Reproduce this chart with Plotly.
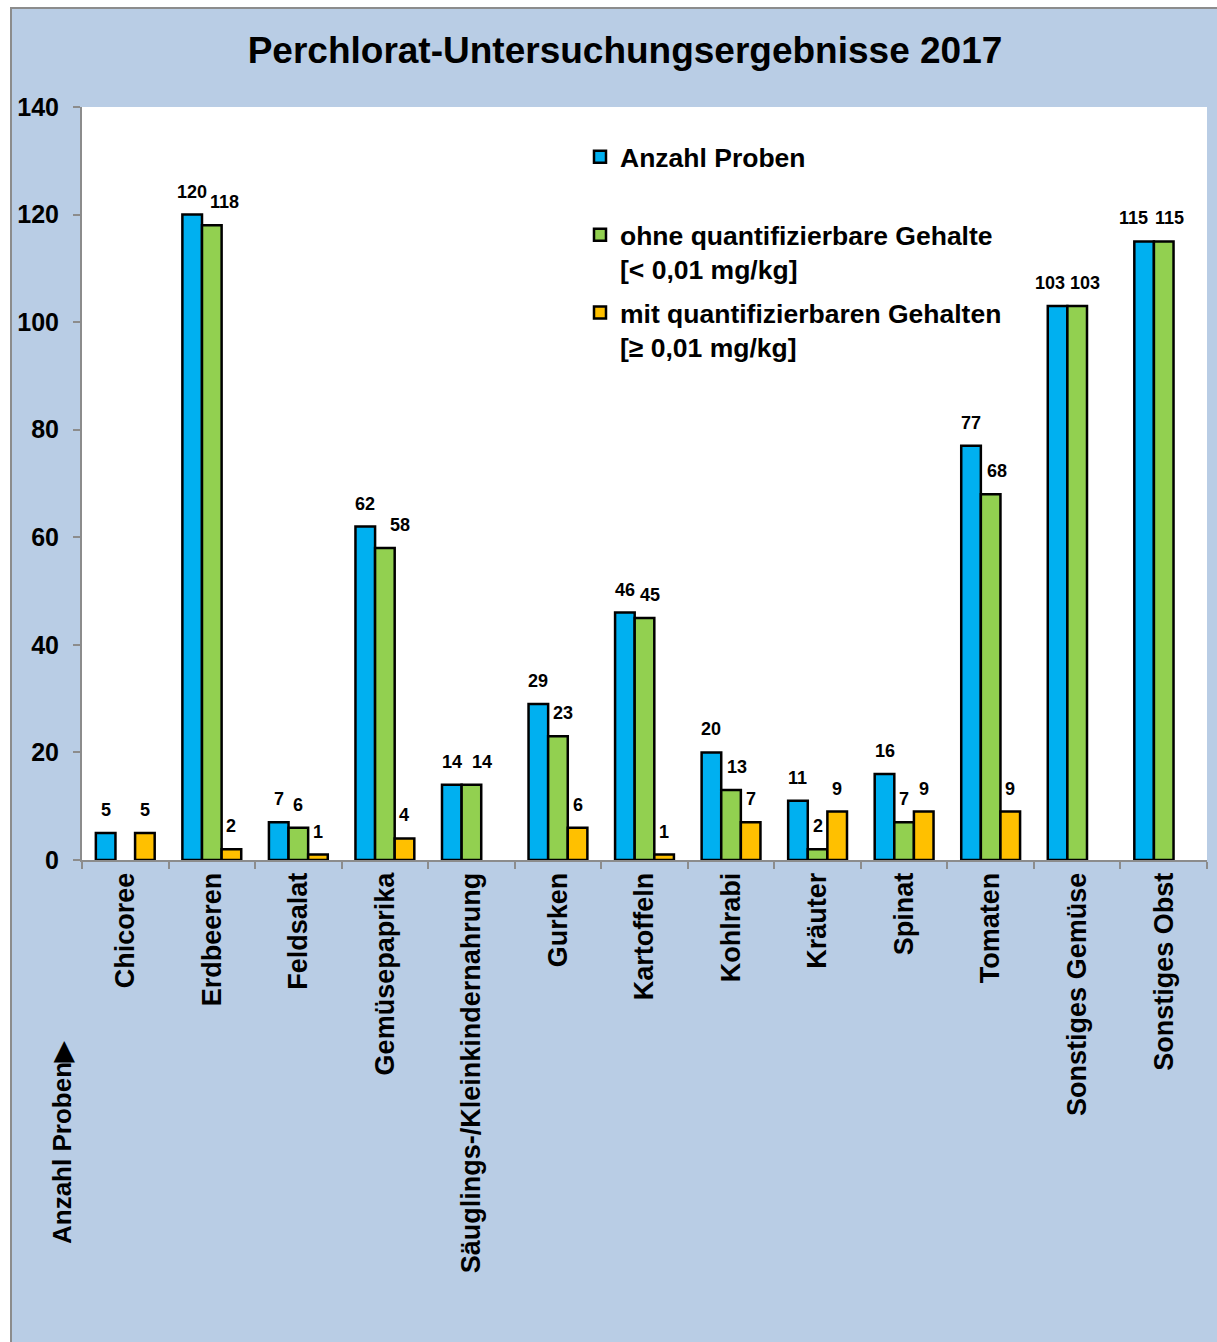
import plotly.graph_objects as go

# Perchlorat-Untersuchungsergebnisse 2017 – Anzahl Proben je Lebensmittelgruppe
kategorien = [
    "Chicoree", "Erdbeeren", "Feldsalat", "Gemüsepaprika",
    "Säuglings-/Kleinkindernahrung", "Gurken", "Kartoffeln", "Kohlrabi",
    "Kräuter", "Spinat", "Tomaten", "Sonstiges Gemüse", "Sonstiges Obst",
]
anzahl_proben = [5, 120, 7, 62, 14, 29, 46, 20, 11, 16, 77, 103, 115]
ohne_gehalte = [0, 118, 6, 58, 14, 23, 45, 13, 2, 7, 68, 103, 115]
mit_gehalten = [5, 2, 1, 4, 0, 6, 1, 7, 9, 9, 9, 0, 0]

y_ticks = [0, 20, 40, 60, 80, 100, 120, 140]

# horizontal nudges (px) for value labels that would otherwise collide
label_dx = [
    [0, 0, 0, 0, 0, 0, 0, 0, 0, 0, 0, -8, -11],
    [0, 13, 0, 15, 11, 5, 5, 6, 0, 0, 6, 8, 6],
    [0] * 13,
]

W, H = 1217, 1342
L, R, T, B = 82, 10, 107, 482
plot_w = W - L - R
plot_h = H - T - B
BARGAP = 0.32


def px_x(px):
    return (px - L) / plot_w


def px_y(py):
    return (H - B - py) / plot_h


FONT = "Liberation Sans, Arial, Helvetica, sans-serif"

serien = [
    ("Anzahl Proben<br>\u00a0", anzahl_proben, "#00B0F0"),
    ("ohne quantifizierbare Gehalte<br>[< 0,01 mg/kg]", ohne_gehalte, "#92D050"),
    ("mit quantifizierbaren Gehalten<br>[≥ 0,01 mg/kg]", mit_gehalten, "#FFC000"),
]

# width of one bar slot in pixels (grouped bars, three slots per category)
slot_px = plot_w / len(kategorien) * (1 - BARGAP) / len(serien)

fig = go.Figure()
annotations = []
for i, (name, werte, farbe) in enumerate(serien):
    # zero counts are left empty (no bar, no label)
    y = [v if v else None for v in werte]
    fig.add_trace(go.Bar(
        name=name,
        x=kategorien,
        y=y,
        legendgroup=f"g{i}",
        marker=dict(color=farbe, line=dict(color="black", width=2.5)),
        hovertemplate="%{x}: %{y}<extra></extra>",
    ))
    for j, (kat, v) in enumerate(zip(kategorien, werte)):
        if not v:
            continue
        annotations.append(dict(
            x=kat, y=v, xref="x", yref="y",
            text=str(v), showarrow=False,
            xanchor="center", yanchor="middle",
            xshift=(i - 1) * slot_px + label_dx[i][j], yshift=23,
            font=dict(family=FONT, size=18, color="black", weight="bold"),
        ))

annotations.append(dict(
    text="Anzahl Proben▶", textangle=-90,
    xref="paper", yref="paper", x=px_x(62), y=px_y(1143),
    xanchor="center", yanchor="middle", showarrow=False,
    font=dict(family=FONT, size=26, color="black", weight="bold"),
))

fig.update_layout(
    width=W, height=H,
    autosize=False,
    margin=dict(l=L, r=R, t=T, b=B, pad=0),
    paper_bgcolor="white",
    plot_bgcolor="rgba(0,0,0,0)",
    barmode="group",
    bargap=BARGAP,
    bargroupgap=0,
    font=dict(family=FONT, color="black"),
    title=dict(
        text="Perchlorat-Untersuchungsergebnisse 2017",
        font=dict(family=FONT, size=37, color="black", weight="bold"),
        x=px_x(625), xref="paper", xanchor="center",
        y=1 - 50 / H, yref="container", yanchor="middle",
    ),
    legend=dict(
        x=px_x(580), y=px_y(133), xanchor="left", yanchor="top",
        xref="paper", yref="paper",
        bgcolor="rgba(0,0,0,0)",
        font=dict(family=FONT, size=26.5, color="black", weight="bold"),
        valign="top",
        traceorder="grouped",
        tracegroupgap=6,
    ),
    xaxis=dict(
        type="category",
        tickson="boundaries",
        ticks="outside", ticklen=7, tickwidth=2, tickcolor="#8C8C8C",
        showline=True, linecolor="#8C8C8C", linewidth=2,
        showgrid=False, zeroline=False,
        tickangle=-90,
        tickfont=dict(family=FONT, size=27, color="black", weight="bold"),
        automargin=False,
    ),
    yaxis=dict(
        range=[0, 140],
        tickvals=y_ticks,
        ticks="outside", ticklen=7, tickwidth=2, tickcolor="#8C8C8C",
        showline=True, linecolor="#8C8C8C", linewidth=2,
        showgrid=False, zeroline=False,
        tickfont=dict(family=FONT, size=25, color="black", weight="bold"),
        ticklabelstandoff=9,
        automargin=False,
    ),
    shapes=[
        # blue chart area with grey frame
        dict(type="rect", xref="paper", yref="paper", layer="below",
             x0=px_x(11), x1=px_x(W + 20), y0=px_y(H + 20), y1=px_y(8),
             fillcolor="#B9CDE5", line=dict(color="#8C8C8C", width=2)),
        # white plot area
        dict(type="rect", xref="paper", yref="paper", layer="below",
             x0=0, x1=1, y0=0, y1=1,
             fillcolor="white", line=dict(width=0)),
    ],
    annotations=annotations,
)

fig.write_html("out.html")
